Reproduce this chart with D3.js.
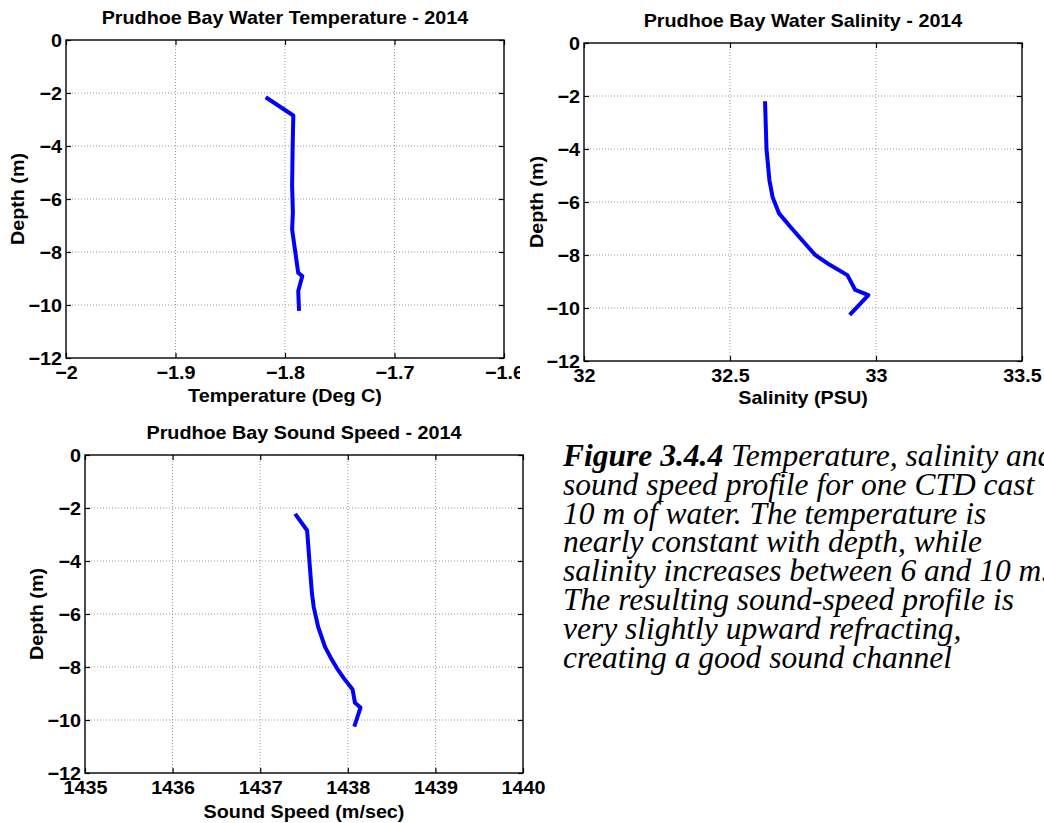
<!DOCTYPE html>
<html>
<head>
<meta charset="utf-8">
<script src="https://cdn.jsdelivr.net/npm/d3@7"></script>
<style>
  body { margin: 0; background: #fff; }
  svg { display: block; }
  .lbl { font-family: "Liberation Sans", Arial, Helvetica, sans-serif; font-weight: bold; font-size: 19px; fill: #000; }
  .cap { font-family: "Liberation Serif", "Times New Roman", serif; font-style: italic; font-size: 31.5px; fill: #000; }
</style>
</head>
<body>
<div class="chart"></div>
<script>
// profil de temperature
const tempDepth = [-2.16, -2.85, -4.0, -5.5, -6.5, -7.15, -8.79, -8.91, -9.47, -10.22];
const tempValue = [-1.8176, -1.7924, -1.7930, -1.7935, -1.7928, -1.7935, -1.7879, -1.7842, -1.7879, -1.7872];

// profil de salinite
const salDepth = [-2.2, -4.0, -5.18, -5.82, -6.43, -6.95, -7.37, -8.0, -8.38, -8.76, -9.32, -9.51, -10.26];
const salValue = [32.620, 32.625, 32.635, 32.646, 32.668, 32.708, 32.741, 32.792, 32.843, 32.902, 32.929, 32.974, 32.910];

// vitesse du son
const ssDepth = [-2.22, -2.85, -4.10, -5.23, -5.74, -6.49, -7.24, -7.62, -8.06, -8.43, -8.85, -9.35, -9.53, -10.25];
const ssValue = [1437.399, 1437.536, 1437.564, 1437.591, 1437.611, 1437.662, 1437.74, 1437.80, 1437.878, 1437.956, 1438.055, 1438.082, 1438.145, 1438.074];

const depthTicks = [0, -2, -4, -6, -8, -10, -12];
const tempTicks = [-2, -1.9, -1.8, -1.7, -1.6];
const salTicks = [32, 32.5, 33, 33.5];
const ssTicks = [1435, 1436, 1437, 1438, 1439, 1440];

const captionLines = [
  "Temperature, salinity and",
  "sound speed profile for one CTD cast",
  "10 m of water. The temperature is",
  "nearly constant with depth, while",
  "salinity increases between 6 and 10 m.",
  "The resulting sound-speed profile is",
  "very slightly upward refracting,",
  "creating a good sound channel"
];

const K = 1.04;   // texte un peu etire comme dans la figure

var svg = d3.select(".chart")
  .append("svg")
  .attr("width", 1044)
  .attr("height", 823);

svg.append("defs").append("clipPath")
  .attr("id", "clip-left")
  .append("rect")
  .attr("x", 0).attr("y", 0)
  .attr("width", 520).attr("height", 415);

function stretchText(sel, x, y, txt, anchor)
{
  return sel.append("text")
    .attr("class", "lbl")
    .attr("text-anchor", anchor || "middle")
    .attr("transform", "translate(" + x + "," + y + ") scale(" + K + ",1)")
    .text(txt);
}

function drawProfile(opt)
{
  var g = svg.append("g").attr("clip-path", opt.clip ? "url(#clip-left)" : null);
  var w = opt.x1 - opt.x0, h = opt.y1 - opt.y0;
  var p = g.append("g").attr("transform", "translate(" + opt.x0 + "," + opt.y0 + ")");

  var x = d3.scaleLinear().domain(opt.xDomain).range([0, w]);
  var y = d3.scaleLinear().domain([0, -12]).range([0, h]);

  // grille pointillee
  p.append("g")
    .selectAll("line.gx")
    .data(opt.xTicks.slice(1, -1))
    .enter().append("line")
    .attr("x1", d => x(d)).attr("x2", d => x(d))
    .attr("y1", 0).attr("y2", h)
    .attr("stroke", "#999").attr("stroke-width", 1)
    .attr("stroke-dasharray", "1,2");
  p.append("g")
    .selectAll("line.gy")
    .data(depthTicks.slice(1, -1))
    .enter().append("line")
    .attr("y1", d => y(d)).attr("y2", d => y(d))
    .attr("x1", 0).attr("x2", w)
    .attr("stroke", "#999").attr("stroke-width", 1)
    .attr("stroke-dasharray", "1,2");

  // ticks interieurs sur les 4 cotes
  var tk = 5;
  p.append("g").call(d3.axisBottom(x).tickValues(opt.xTicks).tickSize(-tk).tickFormat("")).attr("transform", "translate(0," + h + ")");
  p.append("g").call(d3.axisTop(x).tickValues(opt.xTicks).tickSize(-tk).tickFormat(""));
  p.append("g").call(d3.axisLeft(y).tickValues(depthTicks).tickSize(-tk).tickFormat(""));
  p.append("g").call(d3.axisRight(y).tickValues(depthTicks).tickSize(-tk).tickFormat("")).attr("transform", "translate(" + w + ",0)");
  p.selectAll(".domain").remove();
  p.selectAll(".tick line").attr("stroke", "#000").attr("stroke-width", 1.2);

  // cadre
  p.append("rect")
    .attr("width", w).attr("height", h)
    .attr("fill", "none").attr("stroke", "#000").attr("stroke-width", 1.4);

  // labels des axes
  var ya = p.append("g").call(d3.axisLeft(y).tickValues(depthTicks).tickSize(0).tickPadding(0).tickFormat(d3.format("d")));
  ya.select(".domain").remove();
  ya.attr("font-size", null).attr("font-family", null);
  ya.selectAll("text")
    .attr("class", "lbl")
    .attr("x", 0).attr("dy", "0.36em")
    .attr("transform", "translate(-4,0) scale(" + K + ",1)");

  var xa = p.append("g").attr("transform", "translate(0," + h + ")")
    .call(d3.axisBottom(x).tickValues(opt.xTicks).tickSize(0).tickFormat(opt.fmt));
  xa.select(".domain").remove();
  xa.attr("font-size", null).attr("font-family", null);
  xa.selectAll("text")
    .attr("class", "lbl").attr("y", 0).attr("dy", 0)
    .attr("transform", "translate(0," + opt.tickY + ") scale(" + K + ",1)");

  // courbe
  var line = d3.line()
    .x(d => x(d[0]))
    .y(d => y(d[1]));
  p.append("path")
    .datum(d3.zip(opt.values, opt.depths))
    .attr("d", line)
    .attr("fill", "none")
    .attr("stroke", "#0000ff")
    .attr("stroke-width", 4)
    .attr("stroke-linejoin", "round");

  // titres
  stretchText(g, opt.x0 + w / 2, opt.titleY, opt.title);
  stretchText(g, opt.x0 + w / 2, opt.xLabelY, opt.xLabel);
  g.append("text")
    .attr("class", "lbl")
    .attr("text-anchor", "middle")
    .attr("transform", "translate(" + opt.yLabelX + "," + (opt.y0 + h / 2) + ") rotate(-90) scale(" + K + ",1)")
    .text("Depth (m)");
}

drawProfile({
  x0: 66, x1: 504, y0: 40, y1: 358, clip: true,
  xDomain: [-2, -1.6], xTicks: tempTicks, fmt: d3.format(""),
  values: tempValue, depths: tempDepth,
  tickY: 21, titleY: 24, xLabelY: 402, yLabelX: 24,
  title: "Prudhoe Bay Water Temperature - 2014", xLabel: "Temperature (Deg C)"
});

drawProfile({
  x0: 584, x1: 1022, y0: 43, y1: 361,
  xDomain: [32, 33.5], xTicks: salTicks, fmt: d3.format(""),
  values: salValue, depths: salDepth,
  tickY: 21, titleY: 27, xLabelY: 404, yLabelX: 543,
  title: "Prudhoe Bay Water Salinity - 2014", xLabel: "Salinity (PSU)"
});

drawProfile({
  x0: 85, x1: 523, y0: 455, y1: 773,
  xDomain: [1435, 1440], xTicks: ssTicks, fmt: d3.format("d"),
  values: ssValue, depths: ssDepth,
  tickY: 21, titleY: 439, xLabelY: 818, yLabelX: 43,
  title: "Prudhoe Bay Sound Speed - 2014", xLabel: "Sound Speed (m/sec)"
});

// legende de la figure
var cap = svg.append("g");
captionLines.forEach(function(s, i) {
  var t = cap.append("text")
    .attr("class", "cap")
    .attr("x", 563)
    .attr("y", 466 + i * 28.8);
  if (i == 0) {
    t.append("tspan").attr("font-weight", "bold").text("Figure 3.4.4");
    t.append("tspan").text(" " + s);
  } else {
    t.text(s);
  }
});
</script>
</body>
</html>
